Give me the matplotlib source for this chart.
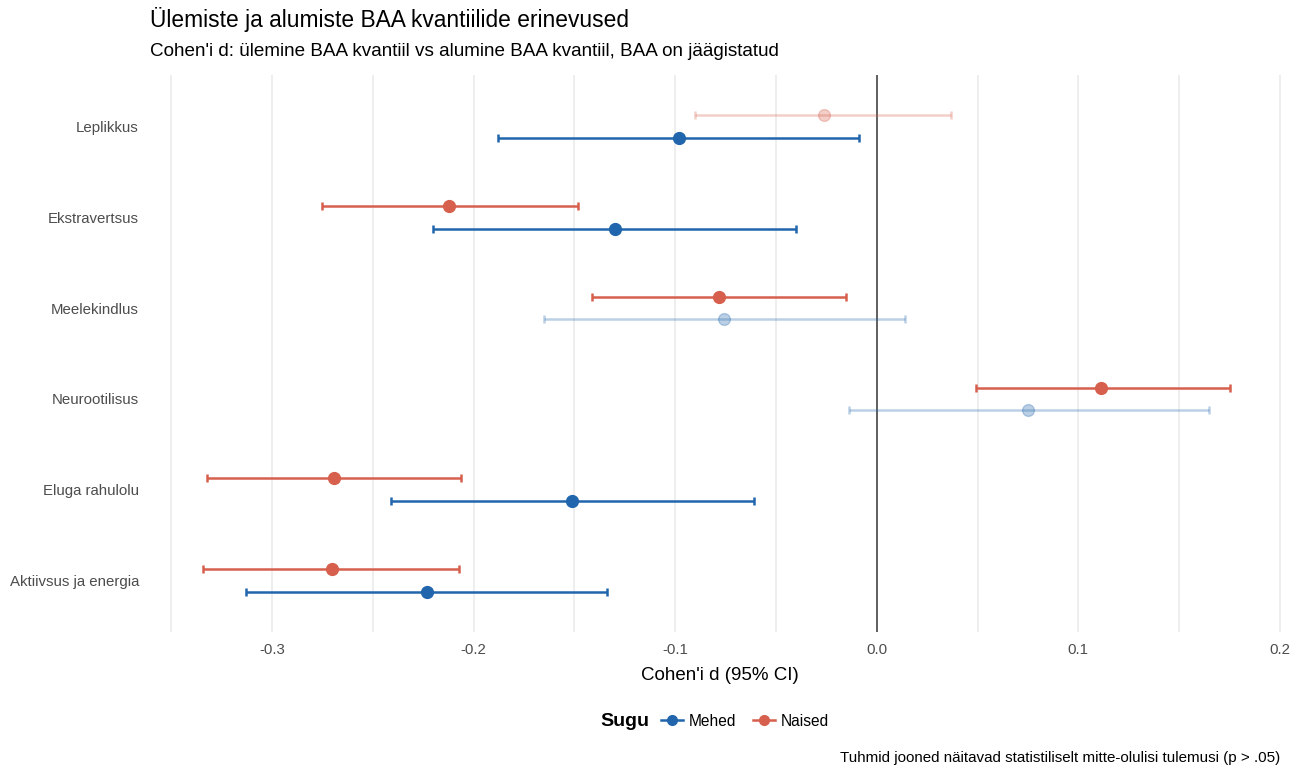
import numpy as np
import matplotlib.pyplot as plt
from matplotlib.lines import Line2D
from matplotlib.offsetbox import HPacker

plt.rcParams["font.family"] = ["Liberation Sans", "DejaVu Sans"]

# ==============================
# data
# ==============================
traits = ["Leplikkus", "Ekstravertsus", "Meelekindlus", "Neurootilisus",
          "Eluga rahulolu", "Aktiivsus ja energia"]

naised_d = [-0.026, -0.212, -0.078, 0.111, -0.269, -0.270]
naised_lo = [-0.090, -0.275, -0.141, 0.049, -0.332, -0.334]
naised_hi = [0.037, -0.148, -0.015, 0.175, -0.206, -0.207]
naised_sig = [False, True, True, True, True, True]

mehed_d = [-0.098, -0.130, -0.076, 0.075, -0.151, -0.223]
mehed_lo = [-0.188, -0.220, -0.165, -0.014, -0.241, -0.313]
mehed_hi = [-0.009, -0.040, 0.014, 0.165, -0.061, -0.134]
mehed_sig = [True, True, False, False, True, True]

xticks = [-0.3, -0.2, -0.1, 0.0, 0.1, 0.2]

BLUE = "#2166ac"
RED = "#d6604d"

fig = plt.figure(figsize=(13.01, 7.66), dpi=100)
ax = fig.add_axes([150 / 1301, 1 - 632 / 766, (1290 - 150) / 1301, (632 - 75) / 766])

n = len(traits)
ypos = np.arange(n)[::-1] + 1  # first trait at top
off = 0.125


def draw(vals, lo, hi, sig, color, dy):
    for y, v, l, h, s in zip(ypos, vals, lo, hi, sig):
        a = 1.0 if s else 0.3
        ax.errorbar(v, y + dy, xerr=[[v - l], [h - v]], fmt="o", color=color,
                    ms=8.5, elinewidth=1.8, capsize=3, capthick=1.8, alpha=a,
                    zorder=3)


draw(naised_d, naised_lo, naised_hi, naised_sig, RED, off)
draw(mehed_d, mehed_lo, mehed_hi, mehed_sig, BLUE, -off)

ax.axvline(0, color="#555555", lw=1.3, zorder=2)

ax.set_xlim(-0.3605, 0.205)
ax.set_ylim(0.43, n + 0.57)
ax.set_xticks(xticks)
ax.set_xticklabels([f"{t:.1f}" for t in xticks])
ax.set_xticks(np.arange(-0.35, 0.21, 0.1), minor=True)
ax.set_yticks(ypos)
ax.set_yticklabels(traits)
ax.grid(axis="x", which="both", color="#ebebeb", lw=1.2, zorder=0)
ax.tick_params(axis="both", which="both", length=0, colors="#4d4d4d",
               labelsize=10.8)
ax.tick_params(axis="x", pad=8)
ax.tick_params(axis="y", pad=8)
for s in ax.spines.values():
    s.set_visible(False)

ax.set_xlabel("Cohen'i d (95% CI)", fontsize=13.5, labelpad=7)

fig.text(150 / 1301, 1 - 20 / 766, "Ülemiste ja alumiste BAA kvantiilide erinevused",
         fontsize=16.4, va="center", ha="left")
fig.text(150 / 1301, 1 - 52 / 766,
         "Cohen'i d: ülemine BAA kvantiil vs alumine BAA kvantiil, BAA on jäägistatud",
         fontsize=13.6, va="center", ha="left")

handles = [Line2D([0], [0], color=BLUE, marker="o", lw=1.8, ms=7),
           Line2D([0], [0], color=RED, marker="o", lw=1.8, ms=7)]
leg = fig.legend(handles, ["Mehed", "Naised"], title="Sugu", loc="center",
                 bbox_to_anchor=(715 / 1301, 1 - 721 / 766), ncol=3,
                 frameon=False, fontsize=11.2, handlelength=1.4,
                 handletextpad=0.4, columnspacing=1.1)
leg.get_title().set_fontweight("bold")
leg.get_title().set_fontsize(14)
# title to the left of entries
box = leg._legend_box
box._children = [HPacker(children=box.get_children(), align="center", pad=0, sep=8)]

fig.text(1280 / 1301, 1 - 758 / 766,
         "Tuhmid jooned näitavad statistiliselt mitte-olulisi tulemusi (p > .05)",
         fontsize=10.9, ha="right", va="center")

plt.savefig("out.png", dpi=100)
